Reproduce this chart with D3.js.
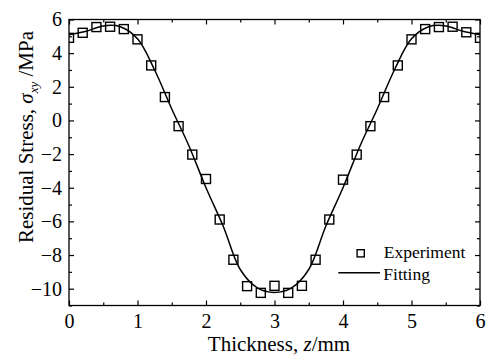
<!DOCTYPE html>
<html>
<head>
<meta charset="utf-8">
<script src="https://cdn.jsdelivr.net/npm/d3@7"></script>
<style>
  body { margin: 0; background: #fff; }
  svg text { font-family: 'Liberation Serif', 'Times New Roman', serif; fill: #000; }
</style>
</head>
<body>
<div id="chart"></div>
<script>
// experiment points
const expX = [0, 0.2, 0.4, 0.6, 0.8, 1.0, 1.2, 1.4, 1.6, 1.8, 2.0, 2.2, 2.4, 2.6, 2.8, 3.0,
  3.2, 3.4, 3.6, 3.8, 4.0, 4.2, 4.4, 4.6, 4.8, 5.0, 5.2, 5.4, 5.6, 5.8, 6.0];
const expY = [4.91, 5.21, 5.55, 5.57, 5.43, 4.82, 3.27, 1.39, -0.34, -2.03, -3.48, -5.89, -8.28, -9.85, -10.25, -9.83,
  -10.25, -9.83, -8.28, -5.89, -3.52, -2.03, -0.34, 1.39, 3.27, 4.82, 5.43, 5.55, 5.57, 5.24, 4.91];

// fitted curve
const fitX = [0, 0.25, 0.5, 0.75, 1.0, 1.25, 1.5, 1.75, 2.0, 2.25, 2.5, 2.75, 3.0,
  3.25, 3.5, 3.75, 4.0, 4.25, 4.5, 4.75, 5.0, 5.25, 5.5, 5.75, 6.0];
const fitY = [5.1, 5.3, 5.62, 5.57, 4.85, 3.0, 0.68, -1.5, -4.0, -6.27, -8.86, -9.95, -10.22,
  -9.95, -8.86, -6.27, -4.0, -1.5, 0.68, 3.0, 4.85, 5.57, 5.62, 5.3, 5.1];

const xMajor = [0, 1, 2, 3, 4, 5, 6];
const xMinor = [0.5, 1.5, 2.5, 3.5, 4.5, 5.5];
const yMajor = [-10, -8, -6, -4, -2, 0, 2, 4, 6];
const yMinor = [-11, -9, -7, -5, -3, -1, 1, 3, 5];
const legendLabels = ["Experiment", "Fitting"];

const FONT = "'Liberation Serif', 'Times New Roman', serif";
const W = 489, H = 356;
const margin = {top: 19.5, right: 9, bottom: 50.5, left: 69};
const w = W - margin.left - margin.right;
const h = H - margin.top - margin.bottom;

const svg = d3.select("#chart").append("svg")
  .attr("width", W).attr("height", H)
  .attr("font-family", FONT);

const g = svg.append("g")
  .attr("transform", "translate(" + margin.left + "," + margin.top + ")");

const x = d3.scaleLinear().domain([0, 6]).range([0, w]);
const y = d3.scaleLinear().domain([-11, 6]).range([h, 0]);

g.append("clipPath").attr("id", "clip")
  .append("rect").attr("width", w).attr("height", h);

// axes: ticks point inward on all four sides
function styleAxis(sel) {
  sel.attr("font-family", FONT).attr("font-size", 20);
  sel.select(".domain").remove();
  sel.selectAll("line").attr("stroke", "#000").attr("stroke-width", 1.2);
  sel.selectAll("text").attr("font-family", FONT).attr("font-size", 20).attr("fill", "#000");
}

g.append("g").attr("transform", "translate(0," + h + ")")
  .call(d3.axisBottom(x).tickValues(xMajor).tickSize(-5).tickPadding(8).tickFormat(d3.format("d")))
  .call(styleAxis);
g.append("g").attr("transform", "translate(0," + h + ")")
  .call(d3.axisBottom(x).tickValues(xMinor).tickSize(-3).tickFormat(""))
  .call(styleAxis);
g.append("g")
  .call(d3.axisTop(x).tickValues(xMajor).tickSize(-5).tickFormat(""))
  .call(styleAxis);
g.append("g")
  .call(d3.axisTop(x).tickValues(xMinor).tickSize(-3).tickFormat(""))
  .call(styleAxis);

g.append("g")
  .call(d3.axisLeft(y).tickValues(yMajor).tickSize(-5).tickPadding(7).tickFormat(d3.format("d")))
  .call(styleAxis);
g.append("g")
  .call(d3.axisLeft(y).tickValues(yMinor).tickSize(-3).tickFormat(""))
  .call(styleAxis);
g.append("g").attr("transform", "translate(" + w + ",0)")
  .call(d3.axisRight(y).tickValues(yMajor).tickSize(-5).tickFormat(""))
  .call(styleAxis);
g.append("g").attr("transform", "translate(" + w + ",0)")
  .call(d3.axisRight(y).tickValues(yMinor).tickSize(-3).tickFormat(""))
  .call(styleAxis);

// fitted line
const fitData = fitX.map((d, i) => [d, fitY[i]]);
const line = d3.line()
  .x(d => x(d[0])).y(d => y(d[1]))
  .curve(d3.curveCatmullRom.alpha(0.5));

g.append("path")
  .datum(fitData)
  .attr("clip-path", "url(#clip)")
  .attr("fill", "none")
  .attr("stroke", "#000")
  .attr("stroke-width", 1.5)
  .attr("d", line);

// experiment squares
const sq = 9;
g.append("g").attr("clip-path", "url(#clip)")
  .selectAll("rect")
  .data(expX.map((d, i) => [d, expY[i]]))
  .enter()
  .append("rect")
  .attr("x", d => x(d[0]) - sq / 2)
  .attr("y", d => y(d[1]) - sq / 2)
  .attr("width", sq).attr("height", sq)
  .attr("fill", "none")
  .attr("stroke", "#000")
  .attr("stroke-width", 1.4);

// frame
g.append("rect")
  .attr("width", w).attr("height", h)
  .attr("fill", "none")
  .attr("stroke", "#000")
  .attr("stroke-width", 1.3);

// legend
const leg = g.append("g")
  .attr("transform", "translate(" + (360.7 - margin.left) + "," + (253.3 - margin.top) + ")");
leg.append("rect")
  .attr("x", -3.6).attr("y", -3.6)
  .attr("width", 7.2).attr("height", 7.2)
  .attr("fill", "none").attr("stroke", "#000").attr("stroke-width", 1.4);
leg.append("text")
  .attr("x", 23).attr("y", 5)
  .attr("font-size", 17.5)
  .text(legendLabels[0]);
leg.append("line")
  .attr("x1", -22.4).attr("x2", 19.3)
  .attr("y1", 19.4).attr("y2", 19.4)
  .attr("stroke", "#000").attr("stroke-width", 1.5);
leg.append("text")
  .attr("x", 22.6).attr("y", 26.7)
  .attr("font-size", 17.5)
  .text(legendLabels[1]);

// axis titles
const xt = svg.append("text")
  .attr("x", 279).attr("y", 350.5)
  .attr("text-anchor", "middle")
  .attr("font-size", 21);
xt.append("tspan").text("Thickness, ");
xt.append("tspan").attr("font-style", "italic").text("z");
xt.append("tspan").text("/mm");

const yt = svg.append("text")
  .attr("transform", "translate(33,137) rotate(-90)")
  .attr("text-anchor", "middle")
  .attr("font-size", 21);
yt.append("tspan").text("Residual Stress, ");
yt.append("tspan").attr("font-style", "italic").text("σ");
yt.append("tspan").attr("font-style", "italic").attr("font-size", 13)
  .attr("dy", 5).text("xy");
yt.append("tspan").attr("dy", -5).text(" /MPa");
</script>
</body>
</html>
